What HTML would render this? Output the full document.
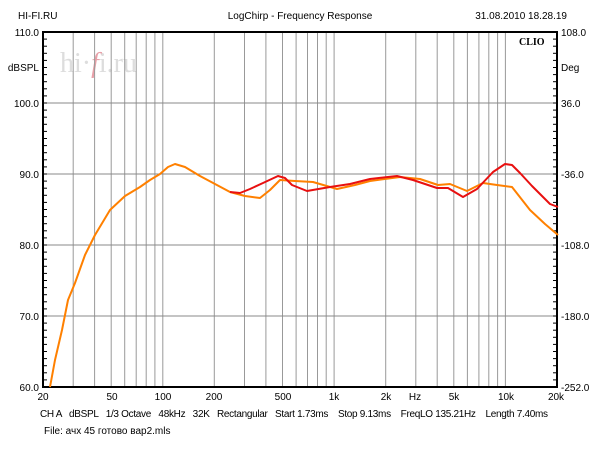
<!DOCTYPE html>
<html><head><meta charset="utf-8"><style>
body{margin:0;background:#fff;width:600px;height:450px;overflow:hidden}
svg text{font-family:"Liberation Sans","Noto Sans CJK SC",sans-serif;font-size:10px;fill:#000}
</style></head><body>
<svg id="s" width="600" height="450" xmlns="http://www.w3.org/2000/svg">
<text x="18" y="19">HI-FI.RU</text>
<text x="300" y="19" text-anchor="middle">LogChirp - Frequency Response</text>
<text x="567" y="19" text-anchor="end">31.08.2010 18.28.19</text>
<text x="60" y="72" style="font-family:'Liberation Serif',serif;font-size:28px;fill:#ddd">hi·<tspan style="fill:#e8a0a8;font-style:italic">f</tspan>i.ru</text>
<g id="grid"></g>
<rect x="43" y="32" width="514" height="355" fill="none" stroke="#000" stroke-width="2"/>
<text x="519" y="45" style="font-family:'Liberation Serif',serif;font-weight:bold;font-size:10px">CLIO</text>
<text x="39" y="36" text-anchor="end">110.0</text>
<text x="39" y="71" text-anchor="end">dBSPL</text>
<text x="39" y="107" text-anchor="end">100.0</text>
<text x="39" y="178" text-anchor="end">90.0</text>
<text x="39" y="249" text-anchor="end">80.0</text>
<text x="39" y="320" text-anchor="end">70.0</text>
<text x="39" y="391" text-anchor="end">60.0</text>
<text x="561" y="36">108.0</text>
<text x="561" y="71">Deg</text>
<text x="561" y="107">36.0</text>
<text x="561" y="178">-36.0</text>
<text x="561" y="249">-108.0</text>
<text x="561" y="320">-180.0</text>
<text x="561" y="391">-252.0</text>
<text x="43" y="400" text-anchor="middle">20</text>
<text x="112" y="400" text-anchor="middle">50</text>
<text x="163" y="400" text-anchor="middle">100</text>
<text x="214" y="400" text-anchor="middle">200</text>
<text x="283" y="400" text-anchor="middle">500</text>
<text x="334" y="400" text-anchor="middle">1k</text>
<text x="386" y="400" text-anchor="middle">2k</text>
<text x="415" y="400" text-anchor="middle">Hz</text>
<text x="454" y="400" text-anchor="middle">5k</text>
<text x="506" y="400" text-anchor="middle">10k</text>
<text x="556" y="400" text-anchor="middle">20k</text>
<text x="40" y="417" textLength="508" lengthAdjust="spacing" xml:space="preserve">CH A   dBSPL   1/3 Octave   48kHz   32K   Rectangular   Start 1.73ms    Stop 9.13ms    FreqLO 135.21Hz    Length 7.40ms</text>
<text x="44" y="434">File: ачх 45 готово вар2.mls</text>
<polyline fill="none" stroke="#ff8000" stroke-width="2" stroke-linejoin="round" points="50,387 55,360 62,330 68,300 75,283 85,255 95,235 110,210 125,196 140,187 150,180 160,174 168,167 175,164 185,167 200,176 215,184 230,192 245,196 260,198 270,190 280,180 295,181 313,182 337,189 355,185 370,181 400,177 420,179 438,185 450,184 467,191 483,183 497,185 512,187 530,210 545,224 558,235"/>
<polyline fill="none" stroke="#e81010" stroke-width="2" stroke-linejoin="round" points="230,192 240,193 250,189 263,183 278,176 285,178 292,185 307,191 330,187 350,184 370,179 397,176 413,180 437,188 448,188 463,197 477,189 493,172 505,164 512,165 520,173 532,186 543,197 550,204 558,207"/>
</svg>
<script>
var g=document.getElementById('grid'),h='';
function X(f){return 43+171.33*Math.log10(f/20);}
[30,40,50,60,70,80,90,100,200,300,400,500,600,700,800,900,1000,2000,3000,4000,5000,6000,7000,8000,9000,10000].forEach(function(f){var x=X(f).toFixed(1);h+='<line x1="'+x+'" y1="32" x2="'+x+'" y2="387" stroke="#999" stroke-width="1"/>';});
[103,174,245,316].forEach(function(y){h+='<line x1="43" y1="'+y+'" x2="557" y2="'+y+'" stroke="#888" stroke-width="1"/>';});
for(var y=32;y<=387;y+=7.1){h+='<line x1="43" y1="'+y+'" x2="47" y2="'+y+'" stroke="#000"/><line x1="553" y1="'+y+'" x2="557" y2="'+y+'" stroke="#000"/>';}
g.innerHTML=h;
</script>
</body></html>
